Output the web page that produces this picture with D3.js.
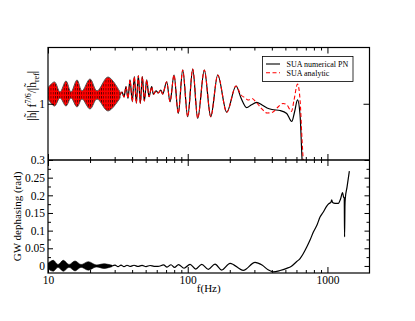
<!DOCTYPE html>
<html lang="en">
<head>
<meta charset="UTF-8">
<title>SUA amplitude and dephasing</title>
<script src="https://cdn.jsdelivr.net/npm/d3@7"></script>
<style>
  body { margin: 0; background: #fff; }
  svg { display: block; }
</style>
</head>
<body>
<svg width="415" height="321"></svg>
<script>
// ---- data ----
const fDomain = [10, 2000];
const fMajor = [10, 100, 1000];
const fMinor = [20, 30, 40, 50, 60, 70, 80, 90, 200, 300, 400, 500, 600, 700, 800, 900];

// top panel: |h| f^(7/6) / |h_ref|
const ampTicks = [1];
// the dense low-f part is too fine to resolve, kept as its envelope
const envF  = [10, 11.13, 12.19, 13.45, 14.61, 16.13, 17.52, 19.98, 22.43, 26.89, 32.77];
const envHi = [1.20, 1.271, 1.146, 1.283, 1.146, 1.296, 1.159, 1.308, 1.159, 1.333, 1.146];
const envLo = [1.06, 0.972, 1.072, 0.972, 1.072, 0.960, 1.059, 0.935, 1.059, 0.910, 1.072];
// both curves agree up to ~220 Hz
const ampF   = [32.77, 33.86, 34.99, 36.16, 37.38, 38.64, 40.12, 41.48, 42.87, 44.31, 45.79, 47.32,
                48.91, 50.88, 52.84, 55.25, 56.73, 59.31, 61.6, 64.1, 66.2, 70.7, 74.7, 79.8, 85.6,
                92.1, 100.0, 108.6, 117.9, 131.5, 146.1, 164.0, 190.2, 221.7];
const ampVal = [1.11, 1.146, 1.084, 1.212, 1.068, 1.296, 1.026, 1.337, 1.006, 1.349, 1.006, 1.337,
                1.034, 1.296, 1.088, 1.212, 1.118, 1.159, 1.134, 1.171, 1.121, 1.274, 1.026, 1.358, 0.881,
                1.420, 0.839, 1.432, 0.819, 1.420, 0.839, 1.358, 0.894, 1.221];
const numTailF   = [240.7, 264.5, 283.9, 311.8, 340.3, 369.6, 401.2, 457.9, 511.3, 555.3, 581.5, 611.0, 636.8, 661.3, 680];
const numTailVal = [1.072, 0.953, 0.984, 1.016, 0.984, 0.947, 0.928, 0.916, 0.879, 0.779, 0.897, 1.047, 0.860, 0.238, 0.0];
const anaTailF   = [240.7, 257.2, 270.2, 288.6, 308.2, 334.7, 369.6, 407.9, 443.0, 481.1, 513.8, 553.4, 576.7, 611.0, 636.8, 658.1, 674.5, 690];
const anaTailVal = [1.109, 1.075, 1.047, 1.065, 1.022, 0.947, 0.885, 0.897, 0.960, 1.003, 0.984, 0.904, 1.047, 1.246, 1.047, 0.549, 0.238, 0.0];

// bottom panel: GW dephasing (rad)
const dphMajor = [0, 0.05, 0.1, 0.15, 0.2, 0.25, 0.3];
const dphMinor = [0.025, 0.075, 0.125, 0.175, 0.225, 0.275];
const blobF  = [10, 10.91, 11.79, 12.87, 14.13, 15.61, 17.23, 19.44, 22.06, 25.17, 28.73];
const blobHi = [0.008, 0.016, 0.004, 0.016, 0.004, 0.014, 0.004, 0.012, 0.003, 0.006, 0.002];
const blobLo = [-0.008, -0.015, -0.004, -0.015, -0.004, -0.014, -0.004, -0.012, -0.003, -0.007, -0.002];
const dphF   = [28.73, 30.17, 31.70, 33.31, 34.99, 36.77, 38.64, 41.27, 44.09, 47.10, 50.30, 53.73, 57.40,
                61.31, 67.12, 71.10, 75.95, 80.45, 85.94, 94.08, 103.9, 114.1, 126.0, 140.5, 156.8, 175.2,
                200.9, 250.0, 303.3, 340.3, 375.8, 410.0, 457.9, 511.3, 549.0, 602.9, 636.8, 669.1, 711.1,
                750.8, 792.9, 838.6, 885.1, 934.7, 988.6, 1027, 1058, 1073, 1088, 1134, 1197, 1241, 1283,
                1304, 1319, 1326, 1335, 1343, 1381, 1435];
const dphVal = [0.000, 0.0025, -0.002, 0.0025, -0.002, 0.002, -0.0015, 0.002, -0.0015, 0.0018, -0.0017, 0.0012, -0.0012,
                -0.0015, 0.0028, -0.0031, 0.0034, -0.0042, 0.0037, -0.0065, 0.0045, -0.0088, 0.0045, -0.0096, 0.0054, -0.0116,
                0.0074, -0.0125, 0.0102, 0.0025, -0.011, -0.0167, -0.013, -0.0068, -0.0017, 0.0125, 0.0209, 0.0337, 0.0535,
                0.0733, 0.0960, 0.1143, 0.1384, 0.1526, 0.1695, 0.1766, 0.1800, 0.1874, 0.1795, 0.1772, 0.1772, 0.1894, 0.2078,
                0.1950, 0.1922, 0.0826, 0.1724, 0.1922, 0.2233, 0.2686];

const legendItems = ['SUA numerical PN', 'SUA analytic'];

// ---- layout ----
const svg = d3.select('svg');
const font = '"Liberation Serif", "DejaVu Serif", serif';
const L = 48, R = 369.5, T = 47.5, M = 160, B = 273;

const x = d3.scaleLog().domain(fDomain).range([L, R]);
const yTop = d3.scaleLinear().domain([0.3, 1.7]).range([M, T]);
const yBot = d3.scaleLinear().domain([-0.02, 0.3]).range([B, M]);

const defs = svg.append('defs');
defs.append('clipPath').attr('id', 'clipTop').append('rect')
    .attr('x', L).attr('y', T).attr('width', R - L).attr('height', M - T);
defs.append('clipPath').attr('id', 'clipBot').append('rect')
    .attr('x', L).attr('y', M).attr('width', R - L).attr('height', B - M);
// fine stripes to suggest the unresolved oscillation (red dashes over black)
const pat = defs.append('pattern').attr('id', 'osc')
    .attr('patternUnits', 'userSpaceOnUse').attr('width', 2.2).attr('height', 4);
pat.append('rect').attr('width', 2.2).attr('height', 4).attr('fill', '#f00');
pat.append('rect').attr('width', 0.7).attr('height', 2.5).attr('fill', '#000').attr('opacity', 0.75);

const zip = (a, b) => a.map((v, i) => [v, b[i]]);

// top panel curves
const gTop = svg.append('g').attr('clip-path', 'url(#clipTop)');
const envArea = d3.area()
    .x(d => x(d[0])).y0(d => yTop(d[2])).y1(d => yTop(d[1]))
    .curve(d3.curveCatmullRom);
gTop.append('path')
    .datum(envF.map((f, i) => [f, envHi[i], envLo[i]]))
    .attr('d', envArea)
    .attr('fill', 'url(#osc)')
    .attr('stroke', '#555')
    .attr('stroke-width', 1);

const lineTop = d3.line().x(d => x(d[0])).y(d => yTop(d[1])).curve(d3.curveMonotoneX);
gTop.append('path')
    .datum(zip(ampF.concat(numTailF), ampVal.concat(numTailVal)))
    .attr('d', lineTop)
    .attr('fill', 'none').attr('stroke', '#000').attr('stroke-width', 1.2);
gTop.append('path')
    .datum(zip(ampF.concat(anaTailF), ampVal.concat(anaTailVal)))
    .attr('d', lineTop)
    .attr('fill', 'none').attr('stroke', 'red').attr('stroke-width', 1.1)
    .attr('stroke-dasharray', '4,2.5');

// bottom panel curves
const gBot = svg.append('g').attr('clip-path', 'url(#clipBot)');
const blobArea = d3.area()
    .x(d => x(d[0])).y0(d => yBot(d[2])).y1(d => yBot(d[1]))
    .curve(d3.curveCatmullRom);
gBot.append('path')
    .datum(blobF.map((f, i) => [f, blobHi[i], blobLo[i]]))
    .attr('d', blobArea)
    .attr('fill', '#000').attr('stroke', '#000').attr('stroke-width', 0.6);
const lineBot = d3.line().x(d => x(d[0])).y(d => yBot(d[1])).curve(d3.curveMonotoneX);
gBot.append('path')
    .datum(zip(dphF, dphVal))
    .attr('d', lineBot)
    .attr('fill', 'none').attr('stroke', '#000').attr('stroke-width', 1.2);

// ---- axes ----
function addAxis(axis, tx, ty, size) {
    const g = svg.append('g').attr('transform', `translate(${tx},${ty})`).call(axis);
    g.select('.domain').remove();
    g.attr('font-family', font).attr('font-size', size || 11.5);
    g.selectAll('line').attr('stroke-width', 1);
    return g;
}
const noLabel = () => '';

// x axes: top & bottom edges of both panels
[[T, 'top'], [M, 'bottom'], [M, 'top'], [B, 'bottom']].forEach(([yy, side], i) => {
    const mk = side === 'top' ? d3.axisTop : d3.axisBottom;
    const labelled = i === 3;
    addAxis(mk(x).tickValues(fMajor).tickSize(-6).tickPadding(3)
        .tickFormat(labelled ? d3.format('d') : noLabel), 0, yy);
    addAxis(mk(x).tickValues(fMinor).tickSize(-3).tickFormat(noLabel), 0, yy);
});

// y axes, top panel
addAxis(d3.axisLeft(yTop).tickValues(ampTicks).tickSize(-6).tickPadding(3).tickFormat(d3.format('d')), L, 0);
addAxis(d3.axisRight(yTop).tickValues(ampTicks).tickSize(-6).tickFormat(noLabel), R, 0);

// y axes, bottom panel
const dphFmt = d => d === 0 ? '0' : String(d);
addAxis(d3.axisLeft(yBot).tickValues(dphMajor).tickSize(-5).tickPadding(3).tickFormat(dphFmt), L, 0);
addAxis(d3.axisLeft(yBot).tickValues(dphMinor).tickSize(-3).tickFormat(noLabel), L, 0);
addAxis(d3.axisRight(yBot).tickValues(dphMajor).tickSize(-5).tickFormat(noLabel), R, 0);
addAxis(d3.axisRight(yBot).tickValues(dphMinor).tickSize(-3).tickFormat(noLabel), R, 0);

// frames
svg.append('rect').attr('x', L).attr('y', T).attr('width', R - L).attr('height', B - T)
    .attr('fill', 'none').attr('stroke', '#000').attr('stroke-width', 1.2);
svg.append('line').attr('x1', L).attr('x2', R).attr('y1', M).attr('y2', M)
    .attr('stroke', '#000').attr('stroke-width', 1.4);

// axis titles
svg.append('text')
    .attr('x', (L + R) / 2).attr('y', 292)
    .attr('text-anchor', 'middle')
    .attr('font-family', font).attr('font-size', 11)
    .text('f(Hz)');

svg.append('text')
    .attr('transform', `translate(21,${(M + B) / 2}) rotate(-90)`)
    .attr('text-anchor', 'middle')
    .attr('font-family', font).attr('font-size', 11)
    .text('GW dephasing (rad)');

const yl = svg.append('text')
    .attr('transform', `translate(36,${(T + M) / 2 - 8}) rotate(-90)`)
    .attr('text-anchor', 'middle')
    .attr('font-family', font).attr('font-size', 11.5);
yl.append('tspan').text('|h\u0303| f');
yl.append('tspan').attr('font-size', 8).attr('dy', -5).text('7/6');
yl.append('tspan').attr('dy', 5).text('/|h\u0303');
yl.append('tspan').attr('font-size', 8).attr('dy', 3).text('ref');
yl.append('tspan').attr('dy', -3).text('|');

// ---- legend ----
const lg = svg.append('g');
lg.append('rect').attr('x', 262.5).attr('y', 56.5).attr('width', 90.5).attr('height', 25)
    .attr('fill', '#fff').attr('stroke', '#000').attr('stroke-width', 0.8);
const legendStyle = [
    { color: '#000', dash: null, y: 64 },
    { color: 'red', dash: '4,2.5', y: 72.7 }
];
legendItems.forEach((name, i) => {
    const s = legendStyle[i];
    lg.append('line').attr('x1', 266).attr('x2', 280).attr('y1', s.y).attr('y2', s.y)
        .attr('stroke', s.color).attr('stroke-width', 1.1)
        .attr('stroke-dasharray', s.dash);
    lg.append('text').attr('x', 286.5).attr('y', s.y + 3)
        .attr('font-family', font).attr('font-size', 8)
        .text(name);
});
</script>
</body>
</html>
